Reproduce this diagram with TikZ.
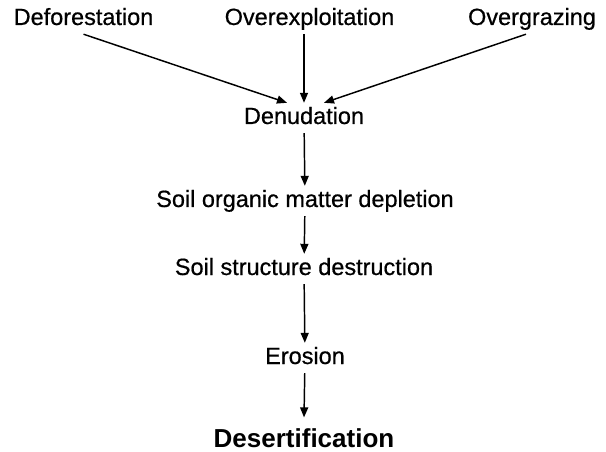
\documentclass[tikz,border=0pt]{standalone}
\usepackage{fontspec}
\setmainfont{Liberation Sans}
\newfontfamily\labelfont[FakeBold=0.6]{Liberation Sans}
\usetikzlibrary{arrows.meta}

\begin{document}
\begin{tikzpicture}[
    x=0.75pt, y=-0.75pt,
    stage/.style={anchor=base, inner sep=3pt, font=\labelfont\fontsize{17.6}{20}\selectfont, text height=12.7pt, text depth=3.7pt},
    final/.style={anchor=base, inner sep=3pt, font=\fontsize{19.5}{22}\selectfont\bfseries, text height=14pt, text depth=3.7pt},
    flow/.style={-{Triangle[length=7.5pt, width=6pt]}, line width=1.1pt}
]
    \useasboundingbox (0,0) rectangle (606,452);

    % Causes
    \node[stage] (deforestation) at (83.5,25) {Deforestation};
    \node[stage] (overexploitation) at (309.5,25) {Overexploitation};
    \node[stage] (overgrazing) at (532,25) {Overgrazing};

    % Chain
    \node[stage] (denudation) at (304,124) {Denudation};
    \node[stage] (depletion) at (305,207) {Soil organic matter depletion};
    \node[stage] (destruction) at (304,275) {Soil structure destruction};
    \node[stage] (erosion) at (305,364) {Erosion};
    \node[final] (desertification) at (304,447) {Desertification};

    % Arrows
    \draw[flow] (deforestation.south) -- ([xshift=-12.75pt]denudation.north);
    \draw[flow] (denudation.north |- overexploitation.south) -- (denudation.north);
    \draw[flow] ([xshift=-4.5pt]overgrazing.south) -- ([xshift=15pt]denudation.north);
    \draw[flow] (denudation) -- (depletion);
    \draw[flow] (depletion) -- (destruction);
    \draw[flow] (destruction) -- (erosion);
    \draw[flow] (erosion) -- ([yshift=5pt]desertification.north);
\end{tikzpicture}
\end{document}
